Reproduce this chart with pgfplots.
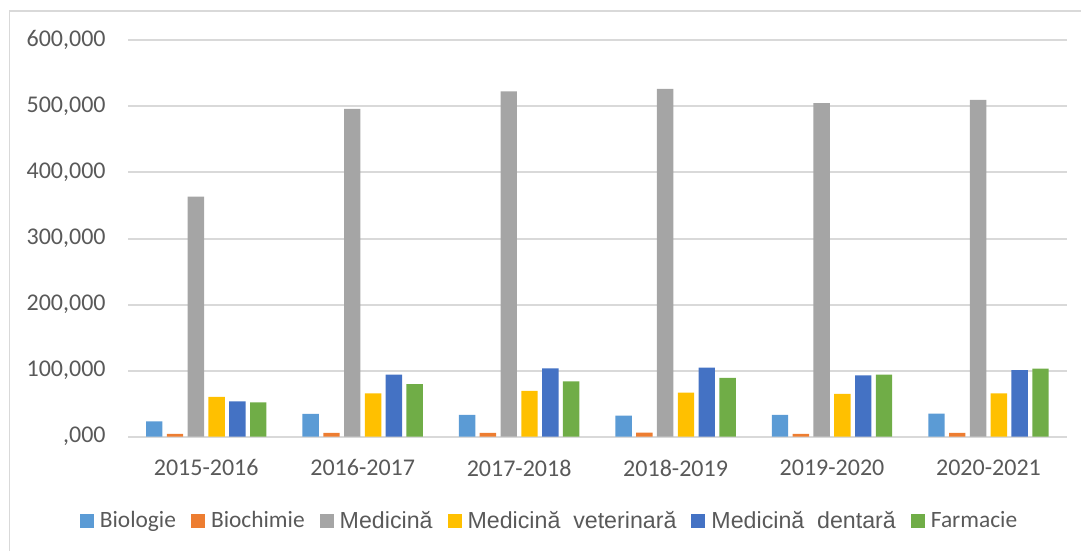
\documentclass[border=0pt]{standalone}
\usepackage{pgfplots}
\pgfplotsset{compat=1.18}
\usepackage{fontspec}
\setmainfont{Carlito}
\newfontfamily\arialf{Liberation Sans}
\definecolor{cBio}{HTML}{5B9BD5}
\definecolor{cBioch}{HTML}{ED7D31}
\definecolor{cMed}{HTML}{A5A5A5}
\definecolor{cVet}{HTML}{FFC000}
\definecolor{cDent}{HTML}{4472C4}
\definecolor{cFarm}{HTML}{70AD47}
\definecolor{txt}{HTML}{595959}
\definecolor{grd}{HTML}{D9D9D9}
\begin{document}
\begin{tikzpicture}
\useasboundingbox (0,0) rectangle (540.5pt,275.5pt);
\draw[grd, line width=0.75pt] (4.65pt,0) -- (4.65pt,270pt) -- (540.5pt,270pt);
\begin{axis}[
  at={(64pt,57.15pt)}, anchor=south west,
  scale only axis, width=469.35pt, height=198.2pt,
  ybar=2.2pt, bar width=8.2pt,
  xmin=-0.5, xmax=5.5, ymin=0, ymax=600000,
  enlargelimits=false,
  scaled y ticks=false,
  axis line style={draw=none},
  major tick length=0pt,
  xtick={0,1,2,3,4,5},
  xticklabels={2015-2016,2016-2017,2017-2018,2018-2019,2019-2020,2020-2021},
  ytick={0,100000,200000,300000,400000,500000,600000},
  yticklabels={{,000},{100,000},{200,000},{300,000},{400,000},{500,000},{600,000}},
  ymajorgrids, grid style={grd, line width=1pt},
  tick label style={font=\fontsize{12}{14}\selectfont, text=txt, inner sep=0pt},
  yticklabel style={anchor=east, xshift=-11pt},
  xticklabel style={anchor=north, yshift=-11.3pt},
  legend columns=6,
  legend style={at={(0.448,-0.2127)}, anchor=center, draw=none, fill=none,
    font=\fontsize{11.7}{14}\selectfont, text=txt,
    nodes={inner xsep=0pt, inner ysep=1pt},
    /tikz/every odd column/.append style={column sep=3pt},
    /tikz/every even column/.append style={column sep=7.5pt}},
  legend cell align=left,
  legend image code/.code={\fill[#1] (0pt,-3.5pt) rectangle (7pt,3.5pt);},
]
\addplot[fill=cBio, draw=none] coordinates {(0,23300) (1,34400) (2,32900) (3,31800) (4,32900) (5,34800)};
\addlegendentry{Biologie}
\addplot[fill=cBioch, draw=none] coordinates {(0,4100) (1,5600) (2,5600) (3,6100) (4,4100) (5,5600)};
\addlegendentry{Biochimie}
\addplot[fill=cMed, draw=none] coordinates {(0,363200) (1,496100) (2,522700) (3,526300) (4,505100) (5,510000)};
\addlegendentry{{\arialf\fontsize{11.6}{14}\selectfont Medicină}}
\addplot[fill=cVet, draw=none] coordinates {(0,60100) (1,65700) (2,69200) (3,66700) (4,64700) (5,65700)};
\addlegendentry{{\arialf\fontsize{11.6}{14}\selectfont Medicină\ \ veterinară}}
\addplot[fill=cDent, draw=none] coordinates {(0,53600) (1,93900) (2,103600) (3,104600) (4,93000) (5,100600)};
\addlegendentry{{\arialf\fontsize{11.6}{14}\selectfont Medicină\ \ dentară}}
\addplot[fill=cFarm, draw=none] coordinates {(0,52100) (1,79400) (2,83900) (3,88900) (4,93900) (5,103000)};
\addlegendentry{Farmacie}
\end{axis}
\end{tikzpicture}
\end{document}
